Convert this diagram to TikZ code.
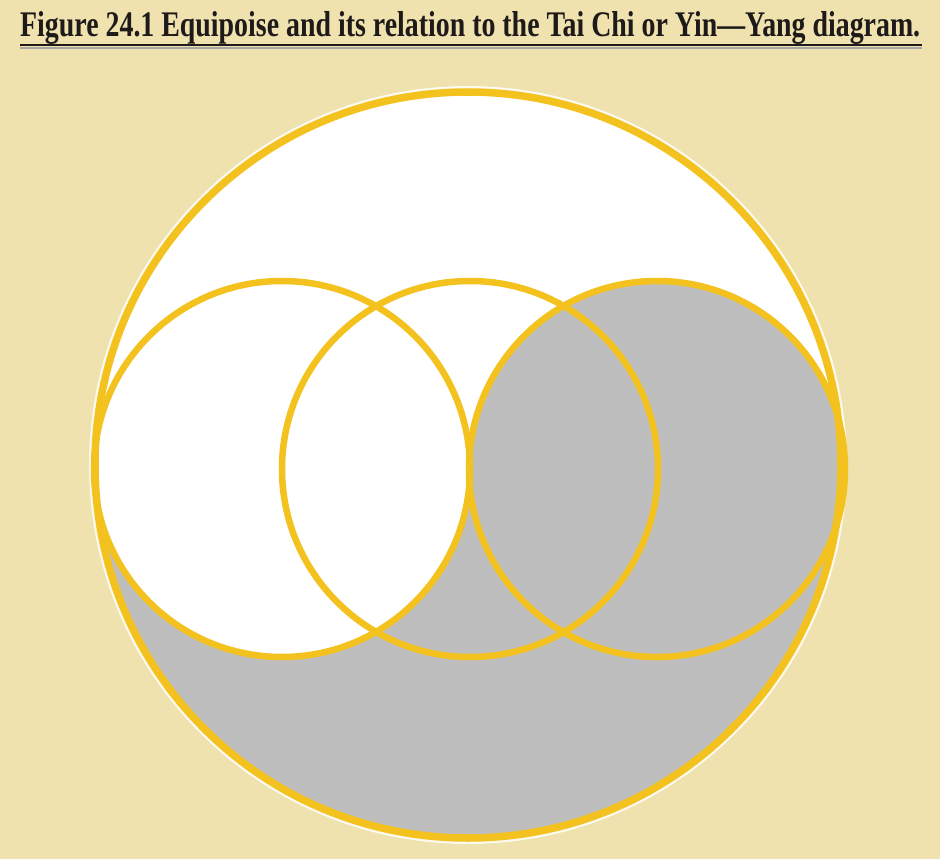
\documentclass[tikz,border=0pt]{standalone}
\usepackage{fontspec}
\setmainfont{Liberation Serif}
\definecolor{bgbeige}{HTML}{EFE2AE}
\definecolor{ringgold}{HTML}{F3C21F}
\definecolor{shadegray}{HTML}{BDBDBD}
\definecolor{titleink}{HTML}{1E1A1A}
\tikzset{
  ring/.style={draw=ringgold, line width=6.5pt},
  bigring/.style={draw=ringgold, line width=7.5pt},
}
\begin{document}
\begin{tikzpicture}[x=1pt,y=-1pt]
  \fill[bgbeige] (0,0) rectangle (940,859);
  \useasboundingbox (0,0) rectangle (940,859);
  % title
  \node[anchor=base west, inner sep=0pt, text=titleink] (title) at (20,37)
    {\resizebox{900pt}{25pt}{\bfseries Figure 24.1 Equipoise and its relation to the Tai Chi or Yin\textemdash Yang diagram.}};
  \coordinate (ulA) at (20,45);
  \coordinate (ulB) at (922,45);
  \draw[gray!70, line width=2pt] ([yshift=-3pt]ulA) -- ([yshift=-3pt]ulB);
  \draw[titleink, line width=1.8pt] (ulA) -- (ulB);
  % geometry
  \coordinate (C) at (468,465);
  \coordinate (L) at (282,469);
  \coordinate (M) at (470,469);
  \coordinate (R) at (657,469);
  % white halo and disc
  \fill[white!80!bgbeige] (C) circle (379);
  \fill[white] (C) circle (373);
  % lower half gray
  \begin{scope}
    \clip (C) circle (373);
    \fill[shadegray] (80,469) rectangle (860,850);
  \end{scope}
  \fill[white] (L) circle (188);
  \fill[shadegray] (R) circle (188);
  % rings
  \draw[ring] (L) circle (188);
  \draw[ring] (M) circle (188);
  \draw[ring] (R) circle (188);
  \draw[bigring] (C) circle (373);
\end{tikzpicture}
\end{document}
